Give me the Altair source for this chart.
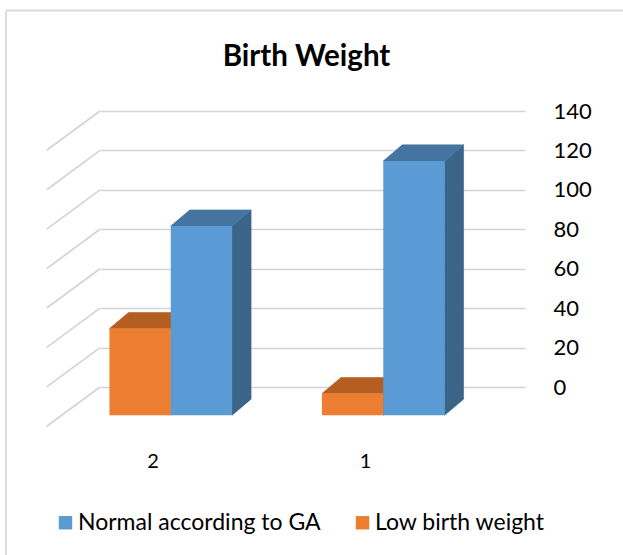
import altair as alt
import pandas as pd

# Birth weight counts per group
categories = ["2", "1"]
normal_ga = [96, 129]
low_bw = [44, 11]
series_names = ["Normal according to GA", "Low birth weight"]
y_ticks = [0, 20, 40, 60, 80, 100, 120, 140]

FONT = "Lato"
BLUE, BLUE_TOP, BLUE_SIDE = "#5B9BD5", "#4574A1", "#3A6488"
ORANGE, ORANGE_TOP, ORANGE_SIDE = "#ED7D31", "#B55E22", "#A8541C"
GRID = "#D4D4D4"

# Oblique projection: offsets (x in category slots, y in value units)
# from the back wall to the bar front face, bar back face and floor front.
BAR_W = 0.2885
FRONT = (-0.167, -14.35)
BACK = (-0.0776, -6.18)
FLOOR = (-0.2508, -19.93)

front_rows, face_rows, label_rows = [], [], []
for i, cat in enumerate(categories):
    center = i + 0.5
    label_rows.append({"cat": cat, "x": center + FLOOR[0], "y": -38.2})
    bars = [
        (series_names[1], low_bw[i], center - BAR_W, ORANGE_TOP, ORANGE_SIDE),
        (series_names[0], normal_ga[i], center, BLUE_TOP, BLUE_SIDE),
    ]
    for name, v, left, top_c, side_c in bars:
        x0 = left + FRONT[0]
        x1 = x0 + BAR_W
        ddx = BACK[0] - FRONT[0]
        fy, by = v + FRONT[1], v + BACK[1]
        front_rows.append({"series": name, "x": x0, "x2": x1, "y": FRONT[1], "y2": fy})
        # side face (right) and top face as closed parallelograms
        side = [(x1, FRONT[1]), (x1, fy), (x1 + ddx, by), (x1 + ddx, BACK[1])]
        top = [(x0, fy), (x1, fy), (x1 + ddx, by), (x0 + ddx, by)]
        for tag, pts, shade in [("side", side, side_c), ("top", top, top_c)]:
            for k, (x, y) in enumerate(pts + pts[:1]):
                face_rows.append({"face": f"{tag}|{cat}|{name}", "layer": tag,
                                  "k": k, "x": x, "y": y, "shade": shade})

wall_rows = [{"x": 0, "y": t, "x2": FLOOR[0], "y2": t + FLOOR[1]} for t in y_ticks]

xs = alt.Scale(domain=[0, 2], nice=False, zero=False)
ys = alt.Scale(domain=[0, 140], nice=False, zero=False)

y_axis = alt.Axis(orient="right", values=y_ticks, title=None, domain=False, ticks=False,
                  grid=True, gridColor=GRID, gridWidth=1.7, labelFont=FONT,
                  labelFontSize=22, labelColor="#000000", labelPadding=28,
                  labelOverlap=False)


def X(field):
    return alt.X(field, scale=xs, axis=None)


def Y(field):
    return alt.Y(field, scale=ys, axis=y_axis)


walls = alt.Chart(pd.DataFrame(wall_rows)).mark_rule(color=GRID, strokeWidth=1.7).encode(
    x=X("x:Q"), y=Y("y:Q"), x2="x2:Q", y2="y2:Q",
)

face_df = pd.DataFrame(face_rows)


def faces(tag):
    return alt.Chart(face_df[face_df["layer"] == tag]).mark_line(
        filled=True, strokeWidth=0.6, interpolate="linear"
    ).encode(
        x=X("x:Q"), y=Y("y:Q"),
        order="k:Q", detail="face:N",
        fill=alt.Fill("shade:N", scale=None),
        stroke=alt.Stroke("shade:N", scale=None),
    )


fronts = alt.Chart(pd.DataFrame(front_rows)).mark_rect().encode(
    x=X("x:Q"), x2="x2:Q", y=Y("y:Q"), y2="y2:Q",
    color=alt.Color(
        "series:N",
        scale=alt.Scale(domain=series_names, range=[BLUE, ORANGE]),
        legend=alt.Legend(orient="none", legendX=-46, legendY=400, direction="horizontal",
                          title=None, symbolType="square", symbolSize=180,
                          symbolStrokeWidth=0, labelFont=FONT, labelFontSize=23,
                          labelColor="#000000", columnPadding=30, labelOffset=1,
                          labelLimit=0, padding=0, offset=0),
    ),
)

labels = alt.Chart(pd.DataFrame(label_rows)).mark_text(
    font=FONT, fontSize=20, color="#000000", baseline="middle"
).encode(x=X("x:Q"), y=Y("y:Q"), text="cat:N")

# Light frame along the chart's top and left edges
frame = alt.Chart(pd.DataFrame({"k": [0]})).mark_rule(color="#D9D9D9", strokeWidth=1.8)
frame_top = frame.encode(x=alt.value(-94), x2=alt.value(530), y=alt.value(-100.5))
frame_left = frame.encode(x=alt.value(-94), y=alt.value(-100.5), y2=alt.value(460))

chart = alt.layer(
    frame_top, frame_left, walls, faces("side"), faces("top"), fronts, labels
).properties(
    width=425, height=276,
    padding={"left": 100, "top": 111, "right": 98, "bottom": 168},
    autosize=alt.AutoSizeParams(type="none"),
    title=alt.TitleParams("Birth Weight", font=FONT, fontSize=29.5, fontWeight="bold",
                          color="#000000", anchor="middle", dx=-6, offset=-63),
    background="#FFFFFF",
).configure_view(stroke=None)

chart.save("out.html", embed_options={"renderer": "svg", "actions": False})
